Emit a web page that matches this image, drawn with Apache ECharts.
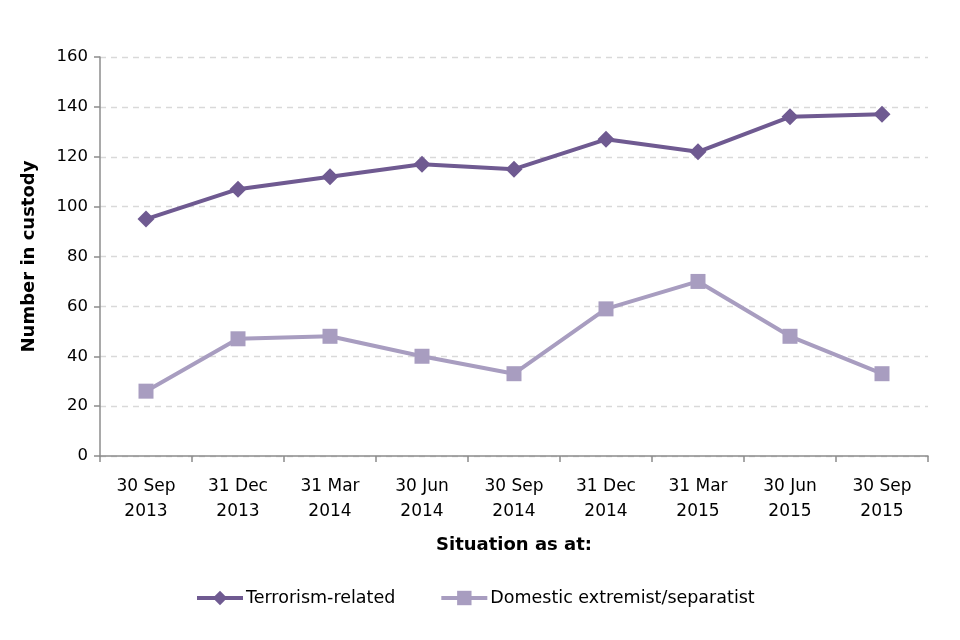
<!DOCTYPE html>
<html><head><meta charset="utf-8">
<script src="https://cdn.jsdelivr.net/npm/echarts@6/dist/echarts.min.js"></script>
<style>html,body{margin:0;padding:0;background:#fff}#c{width:960px;height:640px}</style>
</head><body><div id="c"></div>
<script>
const categories = ["30 Sep\n2013","31 Dec\n2013","31 Mar\n2014","30 Jun\n2014","30 Sep\n2014","31 Dec\n2014","31 Mar\n2015","30 Jun\n2015","30 Sep\n2015"];
const terrorism = [95, 107, 112, 117, 115, 127, 122, 136, 137];
const domestic = [26, 47, 48, 40, 33, 59, 70, 48, 33];
const yTicks = {min: 0, max: 160, interval: 20};

const font = "DejaVu Sans";
const chart = echarts.init(document.getElementById('c'));
chart.setOption({
  animation: false,
  textStyle: {fontFamily: font},
  grid: {left: 100, right: 32, top: 57, bottom: 184, containLabel: false},
  legend: {
    bottom: 28, left: 190, itemGap: 44, itemWidth: 46, itemHeight: 18,
    lineStyle: {width: 4},
    textStyle: {fontFamily: font, fontSize: 17.5, color: '#000', padding: [0, 0, 0, -2]},
    data: ['Terrorism-related', 'Domestic extremist/separatist']
  },
  xAxis: {
    type: 'category', data: categories, boundaryGap: true,
    name: 'Situation as at:', nameLocation: 'middle', nameGap: 80,
    nameTextStyle: {fontFamily: font, fontSize: 18, fontWeight: 'bold', color: '#000'},
    axisLine: {lineStyle: {color: '#8c8c8c', width: 1.5}},
    axisTick: {show: true, alignWithLabel: false, length: 6, lineStyle: {color: '#8c8c8c', width: 1.5}},
    axisLabel: {color: '#000', fontSize: 17, lineHeight: 25, margin: 18, interval: 0},
    splitLine: {show: false}
  },
  yAxis: {
    type: 'value', min: yTicks.min, max: yTicks.max, interval: yTicks.interval,
    name: 'Number in custody', nameLocation: 'middle', nameGap: 62, nameRotate: 90,
    nameTextStyle: {fontFamily: font, fontSize: 18, fontWeight: 'bold', color: '#000'},
    axisLine: {show: true, lineStyle: {color: '#8c8c8c', width: 1.5}},
    axisTick: {show: true, length: 6, lineStyle: {color: '#8c8c8c', width: 1.5}},
    axisLabel: {color: '#000', fontSize: 16.5, margin: 12},
    splitLine: {show: true, lineStyle: {color: '#d9d9d9', type: [6, 5], width: 1.3}}
  },
  series: [
    {
      name: 'Terrorism-related', type: 'line', data: terrorism,
      symbol: 'diamond', symbolSize: 17,
      lineStyle: {color: '#6f5a91', width: 4},
      itemStyle: {color: '#6f5a91'}
    },
    {
      name: 'Domestic extremist/separatist', type: 'line', data: domestic,
      symbol: 'rect', symbolSize: 15,
      lineStyle: {color: '#a89dc0', width: 4},
      itemStyle: {color: '#a89dc0'}
    }
  ]
});
</script></body></html>
